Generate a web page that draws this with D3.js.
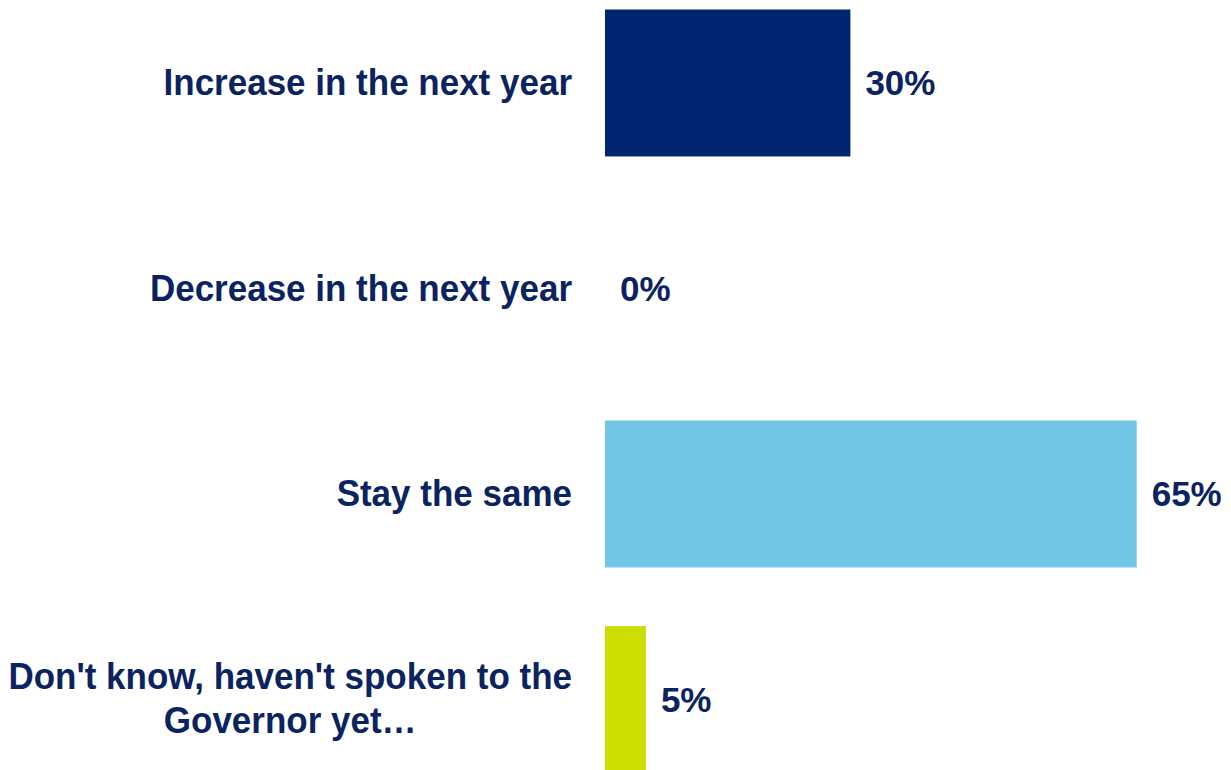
<!DOCTYPE html>
<html>
<head>
<meta charset="utf-8">
<script src="https://cdn.jsdelivr.net/npm/d3@7"></script>
<style>
  html, body { margin: 0; padding: 0; background: #ffffff; }
  svg { display: block; }
  text { font-family: "Liberation Sans", Arial, sans-serif; font-weight: bold; fill: #0B2360; }
</style>
</head>
<body>
<svg id="chart" width="1231" height="770"></svg>
<script>
const categories = ["Increase in the next year", "Decrease in the next year", "Stay the same", "Don't know, haven't spoken to the Governor yet…"];
const labelLines = [["Increase in the next year"], ["Decrease in the next year"], ["Stay the same"], ["Don't know, haven't spoken to the", "Governor yet…"]];
const values = [30, 0, 65, 5];
const colors = ["#002570", "#002570", "#72C5E5", "#CCDD00"];

const svg = d3.select("#chart");
const x = d3.scaleLinear().domain([0, 100]).range([605, 605 + 818]);
const y = d3.scaleBand().domain(categories).range([9.5, 773]).paddingInner(0.285).paddingOuter(0);

const rows = svg.selectAll("g.row").data(categories).enter().append("g").attr("class", "row");

rows.append("rect")
  .attr("x", x(0))
  .attr("y", d => y(d))
  .attr("width", (d, i) => x(values[i]) - x(0))
  .attr("height", y.bandwidth())
  .attr("fill", (d, i) => colors[i]);

rows.append("text")
  .attr("x", (d, i) => x(values[i]) + 15)
  .attr("y", d => y(d) + y.bandwidth() / 2)
  .attr("dy", "0.35em")
  .attr("font-size", 35)
  .text((d, i) => values[i] + "%");

// labels: slightly tall/narrow glyphs as in the reference
const labelRight = 572;
const fs = 37.5, sx = 35 / 37.5;
function label(g, txt, xx, yy, anchor) {
  return g.append("g").attr("transform", `translate(${xx},${yy}) scale(${sx},1)`)
    .append("text").attr("x", 0).attr("y", 0).attr("dy", "0.33em")
    .attr("text-anchor", anchor).attr("font-size", fs).text(txt);
}
rows.each(function(d, i) {
  const g = d3.select(this);
  const lines = labelLines[i];
  const cy = y(d) + y.bandwidth() / 2;
  const lh = 44;
  if (lines.length === 1) {
    label(g, lines[0], labelRight, cy, "end");
  } else {
    const t1 = label(g, lines[0], labelRight, cy - lh / 2 - 1, "end");
    const w1 = t1.node().getComputedTextLength() * sx;
    label(g, lines[1], labelRight - w1 / 2, cy + lh / 2 - 1, "middle");
  }
});
</script>
</body>
</html>
